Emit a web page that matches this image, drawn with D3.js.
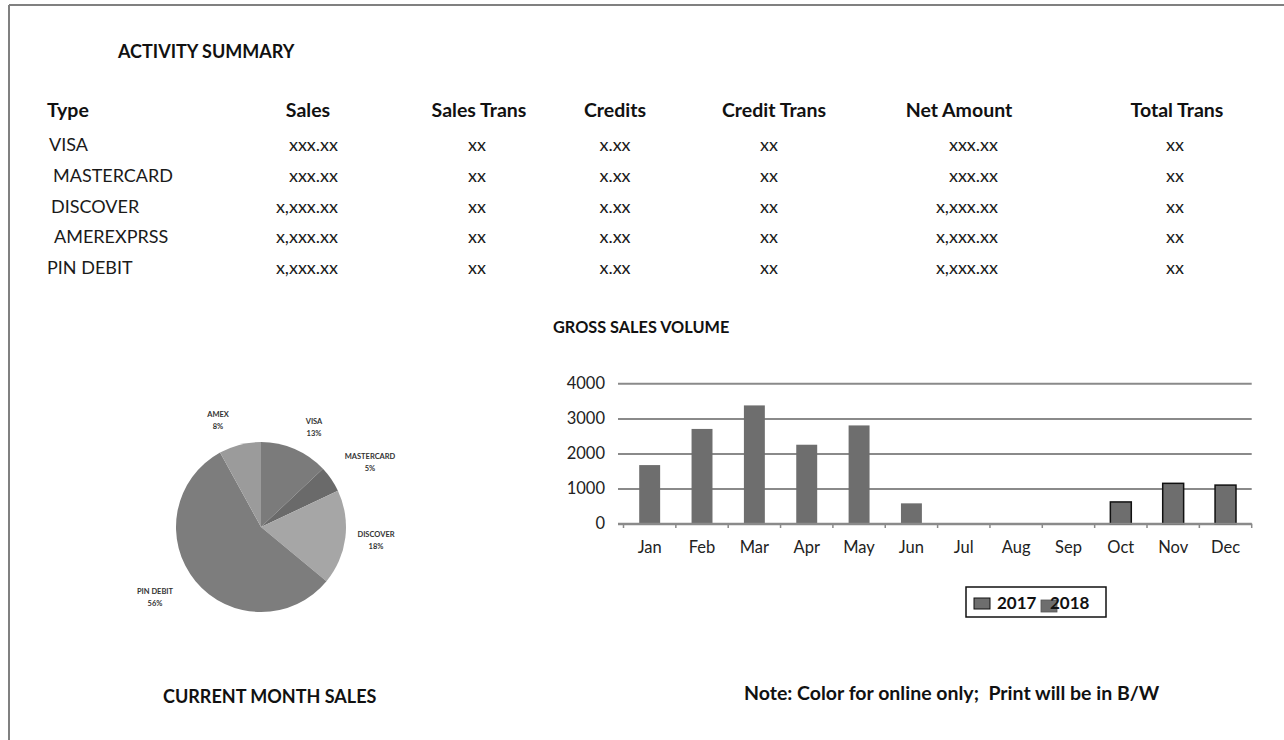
<!DOCTYPE html>
<html>
<head>
<meta charset="utf-8">
<script src="https://cdn.jsdelivr.net/npm/d3@7"></script>
<style>
  body { margin: 0; background: #fff; }
  svg { display: block; font-family: Lato, "Open Sans", sans-serif; }
</style>
</head>
<body>
<svg id="page" width="1284" height="740"></svg>
<script>
// activity summary table
var headers = ["Type", "Sales", "Sales Trans", "Credits", "Credit Trans", "Net Amount", "Total Trans"];
var cardTypes = ["VISA", "MASTERCARD", "DISCOVER", "AMEREXPRSS", "PIN DEBIT"];
var salesCol = ["xxx.xx", "xxx.xx", "x,xxx.xx", "x,xxx.xx", "x,xxx.xx"];
var salesTransCol = ["xx", "xx", "xx", "xx", "xx"];
var creditsCol = ["x.xx", "x.xx", "x.xx", "x.xx", "x.xx"];
var creditTransCol = ["xx", "xx", "xx", "xx", "xx"];
var netAmountCol = ["xxx.xx", "xxx.xx", "x,xxx.xx", "x,xxx.xx", "x,xxx.xx"];
var totalTransCol = ["xx", "xx", "xx", "xx", "xx"];

// pie - current month sales
var pieLabels = ["VISA", "MASTERCARD", "DISCOVER", "PIN DEBIT", "AMEX"];
var pieShares = [13, 5, 18, 56, 8];

// bar chart - gross sales volume
var months = ["Jan", "Feb", "Mar", "Apr", "May", "Jun", "Jul", "Aug", "Sep", "Oct", "Nov", "Dec"];
var sales2017 = [null, null, null, null, null, null, null, null, null, 620, 1150, 1100];
var sales2018 = [1670, 2700, 3370, 2250, 2800, 580, null, null, null, null, null, null];
var yTicks = [0, 1000, 2000, 3000, 4000];
var seriesNames = ["2017", "2018"];

var svg = d3.select("#page");

// page frame (top + left edge of the scanned sheet)
svg.append("line").attr("x1", 9).attr("x2", 1284).attr("y1", 5).attr("y2", 5)
    .attr("stroke", "#808080").attr("stroke-width", 2);
svg.append("line").attr("x1", 9).attr("x2", 9).attr("y1", 5).attr("y2", 740)
    .attr("stroke", "#808080").attr("stroke-width", 2);

/*
 *  Table
 */
svg.append("text").attr("x", 118).attr("y", 58)
    .attr("font-size", 18).attr("font-weight", "bold").attr("fill", "#111")
    .text("ACTIVITY SUMMARY");

var headerX = [47, 308, 479, 615, 774, 959, 1177];
svg.selectAll(".hdr").data(headers).enter().append("text")
    .attr("class", "hdr")
    .attr("x", (d, i) => headerX[i])
    .attr("y", 117)
    .attr("text-anchor", (d, i) => i == 0 ? "start" : "middle")
    .attr("font-size", 19.5).attr("font-weight", "bold").attr("fill", "#111")
    .text(d => d);

var rowY = d3.scalePoint().domain(cardTypes).range([151, 274]);
var typeIndent = [49, 53, 51, 54, 47];

var columns = [
    { vals: cardTypes, x: null, anchor: "start" },
    { vals: salesCol, x: 338, anchor: "end" },
    { vals: salesTransCol, x: 477, anchor: "middle" },
    { vals: creditsCol, x: 615, anchor: "middle" },
    { vals: creditTransCol, x: 769, anchor: "middle" },
    { vals: netAmountCol, x: 998, anchor: "end" },
    { vals: totalTransCol, x: 1175, anchor: "middle" }
];

columns.forEach(function(col, ci) {
    svg.selectAll(".col" + ci).data(col.vals).enter().append("text")
        .attr("class", "col" + ci)
        .attr("x", (d, i) => col.x == null ? typeIndent[i] : col.x)
        .attr("y", (d, i) => rowY(cardTypes[i]))
        .attr("text-anchor", col.anchor)
        .attr("font-size", 18)
        .attr("fill", "#1a1a1a")
        .text(d => d);
});

/*
 *  Pie
 */
var pieColors = ["#7b7b7b", "#6a6a6a", "#a6a6a6", "#7d7d7d", "#9b9b9b"];
var pieData = pieLabels.map((d, i) => ({ label: d, value: pieShares[i], color: pieColors[i] }));
var pie = d3.pie().sort(null).value(d => d.value);
var arc = d3.arc().innerRadius(0).outerRadius(85);
var pieG = svg.append("g").attr("transform", "translate(261,527)");
pieG.selectAll("path").data(pie(pieData)).enter().append("path")
    .attr("d", arc)
    .attr("fill", d => d.data.color);

var pieLabelPos = [[314, 421], [370, 456], [376, 534], [155, 591], [218, 414]];
var pl = svg.selectAll(".pieLbl").data(pieData).enter().append("text")
    .attr("class", "pieLbl")
    .attr("text-anchor", "middle")
    .attr("font-size", 7.5).attr("font-weight", "bold").attr("fill", "#333");
pl.append("tspan").attr("x", (d, i) => pieLabelPos[i][0]).attr("y", (d, i) => pieLabelPos[i][1] + 3)
    .text(d => d.label);
pl.append("tspan").attr("x", (d, i) => pieLabelPos[i][0]).attr("y", (d, i) => pieLabelPos[i][1] + 15)
    .text(d => d.value + "%");

svg.append("text").attr("x", 163).attr("y", 703)
    .attr("font-size", 18).attr("font-weight", "bold").attr("fill", "#111")
    .text("CURRENT MONTH SALES");

/*
 *  Bar chart
 */
svg.append("text").attr("x", 553).attr("y", 333)
    .attr("font-size", 16.3).attr("font-weight", "bold").attr("fill", "#111")
    .text("GROSS SALES VOLUME");

var xScale = d3.scaleBand().domain(months).range([623.5, 1251.7]).padding(0);
var yScale = d3.scaleLinear().domain([0, 4000]).range([523.7, 383.3]);
var barW = xScale.bandwidth() * 0.4;

// gridlines
svg.append("g")
    .attr("transform", "translate(618,0)")
    .call(d3.axisLeft(yScale).tickValues(yTicks).tickSize(-(1251.7 - 618)).tickFormat(""))
    .call(g => g.select(".domain").remove())
    .call(g => g.selectAll("line").attr("stroke", "#8a8a8a").attr("stroke-width", 2));

// y labels
svg.append("g")
    .attr("transform", "translate(605,0)")
    .call(d3.axisLeft(yScale).tickValues(yTicks).tickSize(0).tickPadding(0).tickFormat(d3.format("d")))
    .call(g => g.select(".domain").remove())
    .call(g => g.selectAll("text").attr("font-size", 16.5).attr("fill", "#222")
        .attr("font-family", "Lato, sans-serif"));

// x axis
svg.append("g")
    .attr("transform", "translate(0,523.7)")
    .call(d3.axisBottom(xScale).tickSize(0).tickPadding(18))
    .call(g => g.select(".domain").remove())
    .call(g => g.selectAll("text").attr("font-size", 16.5).attr("fill", "#222")
        .attr("font-family", "Lato, sans-serif"));

var tickXs = months.map(m => xScale(m)).concat([xScale.range()[1]]);
svg.selectAll(".xtick").data(tickXs).enter().append("line")
    .attr("class", "xtick")
    .attr("x1", d => d).attr("x2", d => d)
    .attr("y1", 523.7).attr("y2", 528)
    .attr("stroke", "#8a8a8a").attr("stroke-width", 1.5);

// 2018 bars (no outline)
svg.selectAll(".bar18").data(months.map((m, i) => ({ m: m, v: sales2018[i] })).filter(d => d.v != null))
    .enter().append("rect")
    .attr("class", "bar18")
    .attr("x", d => xScale(d.m) + (xScale.bandwidth() - barW) / 2)
    .attr("y", d => yScale(d.v))
    .attr("width", barW)
    .attr("height", d => yScale(0) - yScale(d.v))
    .attr("fill", "#6e6e6e");

// 2017 bars (black outline)
svg.selectAll(".bar17").data(months.map((m, i) => ({ m: m, v: sales2017[i] })).filter(d => d.v != null))
    .enter().append("rect")
    .attr("class", "bar17")
    .attr("x", d => xScale(d.m) + (xScale.bandwidth() - barW) / 2)
    .attr("y", d => yScale(d.v))
    .attr("width", barW)
    .attr("height", d => yScale(0) - yScale(d.v))
    .attr("fill", "#6e6e6e")
    .attr("stroke", "#111").attr("stroke-width", 1.5);

// x axis baseline on top of bars
svg.append("line").attr("x1", 618).attr("x2", 1251.7).attr("y1", 523.7).attr("y2", 523.7)
    .attr("stroke", "#8a8a8a").attr("stroke-width", 2);

// legend
var leg = svg.append("g").attr("transform", "translate(966,587)");
leg.append("rect").attr("width", 140).attr("height", 30)
    .attr("fill", "#fff").attr("stroke", "#111").attr("stroke-width", 1.5);
leg.append("rect").attr("x", 8).attr("y", 11).attr("width", 16).attr("height", 11)
    .attr("fill", "#6e6e6e").attr("stroke", "#111").attr("stroke-width", 1);
leg.append("text").attr("x", 31).attr("y", 22)
    .attr("font-size", 17).attr("font-weight", "bold").attr("fill", "#111").text(seriesNames[0]);
leg.append("rect").attr("x", 75).attr("y", 13).attr("width", 16).attr("height", 12)
    .attr("fill", "#6e6e6e").attr("stroke", "#555").attr("stroke-width", 0.8);
leg.append("text").attr("x", 84).attr("y", 22)
    .attr("font-size", 17).attr("font-weight", "bold").attr("fill", "#111").text(seriesNames[1]);

svg.append("text").attr("x", 744).attr("y", 700)
    .attr("font-size", 19.5).attr("font-weight", "bold").attr("fill", "#111")
    .attr("xml:space", "preserve")
    .text("Note: Color for online only;  Print will be in B/W");
</script>
</body>
</html>
